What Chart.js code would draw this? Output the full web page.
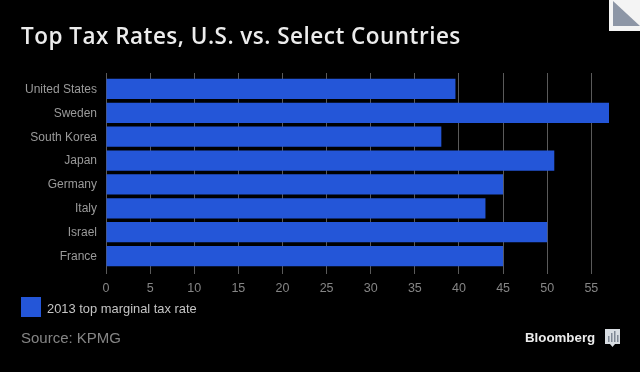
<!DOCTYPE html>
<html><head><meta charset="utf-8">
<style>
html,body{margin:0;padding:0;background:#000;width:640px;height:372px;overflow:hidden}
#w{position:absolute;left:0;top:0;width:640px;height:372px}
</style>
<script src="https://cdn.jsdelivr.net/npm/chart.js@4"></script>
</head><body>
<div id="w"><canvas id="c" width="640" height="372"></canvas></div>
<script>
const titleText = "Top Tax Rates, U.S. vs. Select Countries";
const sourceText = "Source: KPMG";
const brandText = "Bloomberg";
const seriesName = "2013 top marginal tax rate";
const categories = ["United States","Sweden","South Korea","Japan","Germany","Italy","Israel","France"];
const values = [39.6,57,38,50.8,45,43,50,45];
const xTicks = [0,5,10,15,20,25,30,35,40,45,50,55];
const gridColor = '#5a5a5a';

const overlay = {
  id:'overlay',
  beforeDatasetsDraw(ch){
    const g=ch.ctx,x=ch.scales.x,top=ch.chartArea.top;
    g.save();
    g.strokeStyle=gridColor;g.lineWidth=1;
    xTicks.forEach(v=>{const p=Math.round(x.getPixelForValue(v)-0.5)+0.5;g.beginPath();g.moveTo(p,top-4);g.lineTo(p,top);g.stroke();});
    g.restore();
  },
  afterDraw(ch){
    const g=ch.ctx;
    g.save();
    g.textBaseline='alphabetic';
    g.textAlign='left';
    g.fillStyle='#ececec';
    g.font='600 22.5px "Open Sans"';
    g.letterSpacing='0.48px';
    g.fillText(titleText,21,44);
    g.letterSpacing='0px';
    g.fillStyle='#2456d8';
    g.fillRect(21,297,20,20);
    g.fillStyle='#c4c4c4';
    g.font='12.9px "Liberation Sans"';
    g.fillText(seriesName,47,313);
    g.fillStyle='#858585';
    g.font='15px "Liberation Sans"';
    g.fillText(sourceText,21,343);
    g.fillStyle='#ececec';
    g.font='bold 13.3px "Liberation Sans"';
    g.fillText(brandText,525,342);
    g.fillStyle='#d8dde2';
    g.fillRect(605,329,15,15);
    g.beginPath();g.moveTo(610,344);g.lineTo(615,344);g.lineTo(612.5,347);g.fill();
    g.fillStyle='#7f8894';
    [[608,336,1.5,6],[611,333,1.5,9],[614,331,1.5,11],[617,335,1.5,7]].forEach(r=>g.fillRect(...r));
    g.fillStyle='#f4f4f4';
    g.beginPath();g.rect(609,0,31,31);g.fill();
    g.fillStyle='#8d96a6';
    g.beginPath();g.moveTo(613,1);g.lineTo(640,26);g.lineTo(613,26);g.closePath();g.fill();
    g.restore();
  }
};

new Chart(document.getElementById('c'),{
  type:'bar',
  data:{labels:categories,datasets:[{label:seriesName,data:values,backgroundColor:'#2456d8',borderWidth:0,barPercentage:1,categoryPercentage:0.85}]},
  options:{
    indexAxis:'y',responsive:false,animation:false,
    layout:{padding:{left:0,top:77,right:31,bottom:72}},
    plugins:{legend:{display:false},title:{display:false},tooltip:{enabled:false}},
    scales:{
      x:{min:0,max:57,position:'bottom',
        afterBuildTicks(a){a.ticks=xTicks.map(v=>({value:v}));},
        afterFit(a){a.height=32;},
        grid:{color:gridColor,lineWidth:1,drawTicks:true,tickLength:6,offset:false},
        border:{display:false},
        ticks:{color:'#858585',font:{family:'"Liberation Sans"',size:12.5},padding:7,maxRotation:0,autoSkip:false}},
      y:{
        afterFit(a){a.width=106;},
        grid:{display:false,drawTicks:false},border:{display:false},
        ticks:{color:'#9a9a9a',font:{family:'"Liberation Sans"',size:12},padding:9,autoSkip:false,
          labelOffset:0.5}}
    }
  },
  plugins:[overlay]
});
</script>
</body></html>
